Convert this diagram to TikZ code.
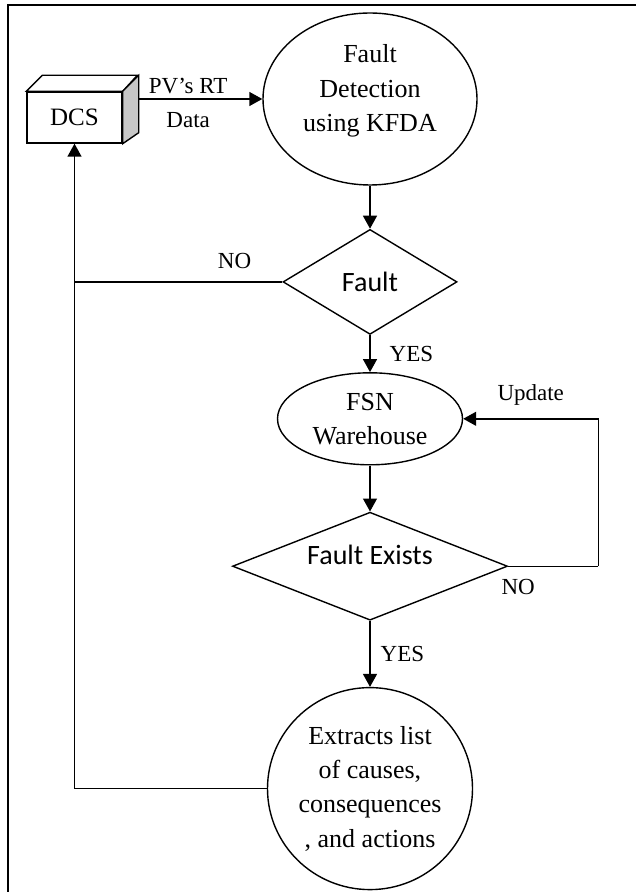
\documentclass[tikz,border=0pt]{standalone}
\usepackage{fontspec}
\setmainfont{Liberation Serif}
\newfontfamily\calibri{Carlito}
\usetikzlibrary{shapes.geometric,arrows.meta,positioning,calc}

\begin{document}
\begin{tikzpicture}[
    line width=0.7pt,
    blob/.style={ellipse, draw=black, inner sep=0pt, align=center, font=\fontsize{13}{17.2}\selectfont},
    decision/.style={diamond, draw=black, inner sep=0pt, font=\calibri\fontsize{14}{16}\selectfont},
    dcsbox/.style={rectangle, draw=black, fill=white, minimum width=47.5pt, minimum height=25.5pt, font=\fontsize{12.5}{15}\selectfont},
    arrow/.style={-{Triangle[length=6.5pt,width=7pt]}},
    lbl/.style={font=\fontsize{11.5}{13}\selectfont, inner sep=2pt},
]
\useasboundingbox (0,0) rectangle (318pt,-446pt);
% frame (only top and left edges show)
\draw[line width=1pt] (3.75pt,-446pt) -- (3.75pt,-2.5pt) -- (318pt,-2.5pt);

\node[blob, text depth=11pt, minimum width=107pt, minimum height=86pt] (kfda) at (185pt,-49.5pt) {Fault\\Detection\\using KFDA};
\node[decision, aspect=1.66, minimum width=87pt, minimum height=52.5pt, below=21.5pt of kfda] (fault) {Fault};
\node[blob, minimum width=92.5pt, minimum height=46pt, below=18.5pt of fault] (fsn) {FSN\\Warehouse};
\node[decision, aspect=2.55, text depth=11pt, minimum width=137.5pt, minimum height=54pt, below=23pt of fsn] (exists) {Fault Exists};
\node[blob, minimum width=102.5pt, minimum height=101pt, below=33pt of exists] (act) {Extracts list\\of causes,\\consequences\\, and actions};

% DCS as a small box
\node[dcsbox] (dcs) at (37.25pt,-58.75pt) {DCS};
\draw[fill=white] (dcs.north west) -- ++(8pt,8pt) -- ++(47.5pt,0) -- (dcs.north east) -- cycle;
\draw[fill=black!22] (dcs.north east) -- ++(8pt,8pt) -- ($(dcs.south east)+(8pt,5.5pt)$) -- (dcs.south east) -- cycle;
\coordinate (dcsout) at ($(dcs.east)+(8pt,8pt)$);

\draw[arrow] (dcsout |- kfda.west) -- (kfda.west)
    node[lbl, above=0pt, pos=0.4] {PV's RT}
    node[lbl, below=4.2pt, pos=0.4] {Data};
\draw[arrow] (kfda) -- (fault);
\draw (fault.west) -- (fault.west -| dcs.south) node[lbl, above=4pt, pos=0.23] {NO};
\draw[arrow] (fault) -- (fsn) node[lbl, right=7.5pt, midway] {YES};
\draw[arrow] (fsn) -- (exists);
\coordinate[right=45pt of exists.east] (updcorner);
\draw (exists.east) -- (updcorner) node[lbl, below=4pt, pos=0.11] {NO};
\draw[arrow] (updcorner) |- (fsn.east) node[lbl, above=4.5pt, pos=0.75] {Update};
\draw[arrow] (exists) -- (act) node[lbl, right=3pt, midway] {YES};
\draw[arrow] (act.west) -| (dcs.south);
\end{tikzpicture}
\end{document}
